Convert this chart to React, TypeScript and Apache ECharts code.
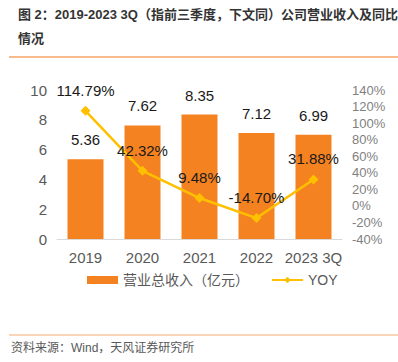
import React, { useEffect, useRef } from "react";
import * as echarts from "echarts";

const categories = ["2019", "2020", "2021", "2022", "2023 3Q"];
const revenue = [5.36, 7.62, 8.35, 7.12, 6.99];
const yoy = [114.79, 42.32, 9.48, -14.7, 31.88];
const titleLine1 = "图 2：2019-2023 3Q（指前三季度，下文同）公司营业收入及同比";
const titleLine2 = "情况";
const sourceText = "资料来源：Wind，天风证券研究所";
const revenueName = "营业总收入（亿元）";
const yoyName = "YOY";

const FONT = "'Liberation Sans', 'Noto Sans CJK SC', sans-serif";

export default function App() {
  const ref = useRef<HTMLDivElement>(null);
  useEffect(() => {
    if (!ref.current) return;
    const chart = echarts.init(ref.current, null, { renderer: "svg" });
    chart.setOption({
      animation: false,
      textStyle: { fontFamily: FONT },
      graphic: [
        {
          type: "text",
          left: 18,
          top: 8,
          style: { text: titleLine1, font: `bold 13px ${FONT}`, fill: "#333333" },
        },
        {
          type: "text",
          left: 18,
          top: 32,
          style: { text: titleLine2, font: `bold 13px ${FONT}`, fill: "#333333" },
        },
        {
          type: "line",
          shape: { x1: 9, y1: 57, x2: 398, y2: 57 },
          style: { stroke: "#F4A569", lineWidth: 1.5 },
        },
        {
          type: "line",
          shape: { x1: 9, y1: 335, x2: 398, y2: 335 },
          style: { stroke: "#F9C9A0", lineWidth: 1.5 },
        },
        {
          type: "text",
          left: 11,
          top: 342,
          style: { text: sourceText, font: `12px ${FONT}`, fill: "#595959" },
        },
      ],
      grid: { left: 57, right: 56, top: 90, bottom: 123 },
      legend: {
        bottom: 70,
        left: 82,
        itemGap: 22,
        textStyle: { fontSize: 14, color: "#595959", fontFamily: FONT },
        data: [
          { name: revenueName, icon: "rect", itemStyle: { color: "#F58220" } },
          { name: yoyName },
        ],
        itemWidth: 31,
        itemHeight: 8,
      },
      xAxis: {
        type: "category",
        data: categories,
        axisLine: { lineStyle: { color: "#D9D9D9" } },
        axisTick: { show: false },
        axisLabel: { color: "#595959", fontSize: 15, margin: 11, interval: 0, fontFamily: FONT },
      },
      yAxis: [
        {
          type: "value",
          min: 0,
          max: 10,
          interval: 2,
          splitLine: { show: false },
          axisLine: { show: false },
          axisTick: { show: false },
          axisLabel: { color: "#595959", fontSize: 15, margin: 10, fontFamily: FONT },
        },
        {
          type: "value",
          min: -40,
          max: 140,
          interval: 20,
          splitLine: { show: false },
          axisLine: { show: false },
          axisTick: { show: false },
          axisLabel: {
            color: "#7f7f7f",
            fontSize: 13,
            margin: 10,
            formatter: "{value}%",
            fontFamily: FONT,
          },
        },
      ],
      series: [
        {
          name: revenueName,
          type: "bar",
          data: revenue,
          barWidth: 36,
          itemStyle: { color: "#F58220" },
          label: {
            show: true,
            position: "top",
            distance: 12,
            color: "#1a1a1a",
            fontSize: 15,
            fontFamily: FONT,
          },
        },
        {
          name: yoyName,
          type: "line",
          yAxisIndex: 1,
          data: yoy,
          symbol: "diamond",
          symbolSize: 10,
          lineStyle: { color: "#FFC000", width: 2.5 },
          itemStyle: { color: "#FFC000" },
          label: {
            show: true,
            position: "top",
            distance: 8,
            color: "#1a1a1a",
            fontSize: 15,
            fontFamily: FONT,
            formatter: (p: any) => p.value.toFixed(2) + "%",
          },
        },
      ],
    });
    return () => chart.dispose();
  }, []);
  return <div ref={ref} style={{ width: 398, height: 362, position: "absolute", left: 0, top: 0 }} />;
}
